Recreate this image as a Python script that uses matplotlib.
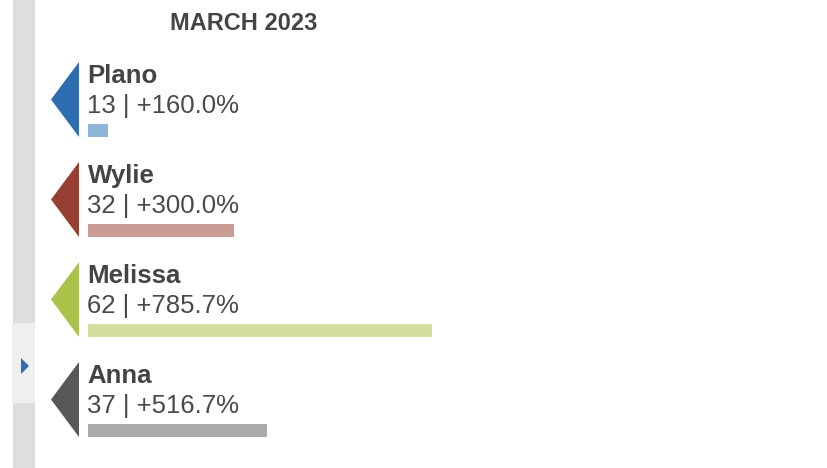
import matplotlib.pyplot as plt
from matplotlib.patches import Polygon, Rectangle

plt.rcParams['font.family'] = ['Liberation Sans', 'DejaVu Sans']

title = 'MARCH 2023'
cities = ['Plano', 'Wylie', 'Melissa', 'Anna']
counts = [13, 32, 62, 37]
changes = [160.0, 300.0, 785.7, 516.7]
dark_colors = ['#2f6db1', '#973f31', '#a8c24b', '#585858']
light_colors = ['#8db5d9', '#c99c95', '#d3df9f', '#aaaaaa']

W, H = 828, 468
fig = plt.figure(figsize=(W / 100, H / 100), dpi=100)

# full-figure axes in pixel units for the layout pieces
bg = fig.add_axes([0, 0, 1, 1])
bg.set_xlim(0, W)
bg.set_ylim(H, 0)
bg.axis('off')

# left scroll strip
bg.add_patch(Rectangle((13, 0), 22, H, color='#dedede', lw=0))
bg.add_patch(Rectangle((12, 323), 23, 80, color='#efefef', lw=0))
bg.add_patch(Polygon([(21, 358), (21, 374), (29, 366)], closed=True, color='#2f6db1', lw=0))

bg.text(244, 30, title, ha='center', va='baseline', fontsize=17,
        fontweight='bold', color='#444444')

row_top = 62
row_step = 100
for i, (city, n, pct, c) in enumerate(zip(cities, counts, changes, dark_colors)):
    top = row_top + i * row_step
    bg.add_patch(Polygon([(79, top), (79, top + 75), (51, top + 37.5)],
                         closed=True, color=c, lw=0))
    bg.text(87.5, top + 21, city, ha='left', va='baseline', fontsize=18.6,
            fontweight='bold', color='#444444')
    bg.text(87.5, top + 51, f'{n} | +{pct:.1f}%', ha='left', va='baseline',
            fontsize=18.5, color='#4a4a4a')

# bars on their own value scale
bar_ax = fig.add_axes([88 / W, 0, 400 / W, 1])
bar_ax.set_xlim(10, 70.4)
bar_ax.set_ylim(H, 0)
bar_ax.axis('off')
bar_y = [row_top + 62 + i * row_step + 6.5 for i in range(len(cities))]
bar_ax.barh(bar_y, counts, height=13, color=light_colors, lw=0)

plt.savefig('out.png', dpi=100)
